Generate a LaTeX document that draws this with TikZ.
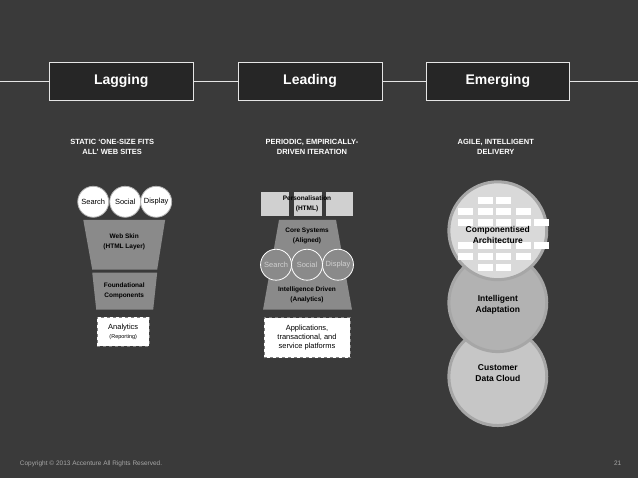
\documentclass[tikz,border=0pt]{standalone}
\usepackage{fontspec}
\setmainfont{Liberation Sans}
\usetikzlibrary{positioning}
\definecolor{bgc}{HTML}{3A3A3A}
\definecolor{hdr}{HTML}{262626}
\definecolor{midg}{HTML}{8A8A8A}
\definecolor{ltg}{HTML}{D0D0D0}
\tikzset{
  header/.style={rectangle, draw=gray!20, line width=0.7pt, fill=hdr, text=white, font=\bfseries\fontsize{14}{16}\selectfont, minimum height=38pt, minimum width=144pt, text centered},
  subtitle/.style={text=white, font=\bfseries\fontsize{7.5}{10}\selectfont, align=center},
  bubble/.style={circle, draw=gray!60, line width=0.8pt, fill=white, minimum size=31pt, inner sep=0pt, font=\fontsize{7.5}{9}\selectfont},
  darkbubble/.style={circle, draw=white, line width=0.8pt, fill=midg, text=ltg, minimum size=31pt, inner sep=0pt, font=\fontsize{7.5}{9}\selectfont},
  layer/.style={fill=midg, draw=none},
  label/.style={font=\bfseries\fontsize{6.5}{10}\selectfont, align=center, text=black},
  platform/.style={rectangle, draw=gray, dashed, fill=white, align=center, font=\fontsize{7.5}{9}\selectfont},
  disc/.style={circle, draw=gray!70, line width=3pt, minimum size=98pt, inner sep=0pt},
  brick/.style={fill=white, draw=none},
  disctext/.style={font=\bfseries\fontsize{8.5}{11}\selectfont, align=center, text=black}
}
\begin{document}
\begin{tikzpicture}[x=1pt,y=-1pt]
\fill[bgc] (0,0) rectangle (638,479);
\draw[gray!20, line width=0.7pt] (0,81) -- (638,81);

% headers
\node[header] (lag) at (121,81) {Lagging};
\node[header] (lead) at (310,81) {Leading};
\node[header] (emerge) at (498,81) {Emerging};

\node[subtitle] (sublag) at (112,147) {STATIC `ONE-SIZE FITS\\ALL' WEB SITES};
\node[subtitle] (sublead) at (312,147) {PERIODIC, EMPIRICALLY-\\DRIVEN ITERATION};
\node[subtitle] (subemerge) at (496,147) {AGILE, INTELLIGENT\\DELIVERY};

% lagging stack
\fill[layer] (83,220) -- (165,220) -- (157,270) -- (92,270) -- cycle;
\fill[layer] (92,273) -- (157,273) -- (153,310) -- (96,310) -- cycle;
\node[label] (skin) at (124,242) {Web Skin\\(HTML Layer)};
\node[label] (found) at (124,291) {Foundational\\Components};
\node[bubble] (lsearch) at (93,202) {Search};
\node[bubble] (lsocial) at (125,202) {Social};
\node[bubble] (ldisplay) at (156,202) {Display};
\node[platform, minimum width=52pt, minimum height=29pt] (lanalytics) at (123,332) {Analytics\\{\fontsize{5.5}{6}\selectfont(Reporting)}};

% leading stack
\fill[ltg] (261,192) rectangle (289,216);
\fill[ltg] (294,192) rectangle (322,216);
\fill[ltg] (326,192) rectangle (353,216);
\node[label] (perso) at (307,204) {Personalisation\\(HTML)};
\fill[layer] (279,220) -- (336,220) -- (352,310) -- (263,310) -- cycle;
\node[label] (core) at (307,236) {Core Systems\\(Aligned)};
\node[darkbubble] (msearch) at (276,265) {Search};
\node[darkbubble] (msocial) at (307,265) {Social};
\node[darkbubble] (mdisplay) at (338,265) {Display};
\node[label] (intel) at (307,295) {Intelligence Driven\\(Analytics)};
\node[platform, minimum width=86pt, minimum height=40pt] (apps) at (307,338) {Applications,\\transactional, and\\service platforms};

% emerging
\node[disc, fill=gray!45] (cloud) at (498,377) {};
\node[disc, fill=gray!60] (adapt) at (498,303) {};
\node[disc, fill=gray!30] (arch) at (498,231) {};
\foreach \x/\y in {478/197,496/197,458/208,478/208,496/208,516/208,458/219,478/219,496/219,516/219,534/219,
                   458/242,478/242,496/242,516/242,534/242,458/253,478/253,496/253,516/253,478/264,496/264}
  \fill[brick] (\x,\y) rectangle +(15,7);
\node[disctext] (archtext) at (498,235) {Componentised\\Architecture};
\node[disctext] (adapttext) at (498,305) {Intelligent\\Adaptation};
\node[disctext] (cloudtext) at (498,373) {Customer\\Data Cloud};

% footer
\node[anchor=west, text=gray!70, font=\fontsize{6.5}{8}\selectfont] (copy) at (16,464) {Copyright \textcopyright{} 2013 Accenture All Rights Reserved.};
\node[text=gray!70, font=\fontsize{6.5}{8}\selectfont] (page) at (618,464) {21};
\end{tikzpicture}
\end{document}
